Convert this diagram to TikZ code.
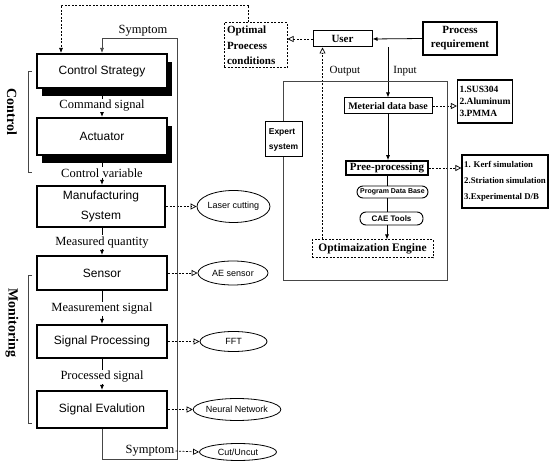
\documentclass[tikz,border=0pt]{standalone}
\usepackage{fontspec}
\setmainfont{Liberation Serif}
\setsansfont{Liberation Sans}
\usepackage{tikz}
\usetikzlibrary{arrows.meta,shapes.geometric,shadows}
\definecolor{linegray}{RGB}{70,70,70}
\tikzset{
    blk/.style={rectangle, draw, line width=2pt, fill=white, minimum width=130pt, inner sep=0pt, align=center, font=\sffamily\fontsize{12}{20}\selectfont},
    shd/.style={drop shadow={fill=black, opacity=1, shadow xshift=5pt, shadow yshift=-8pt}},
    sig/.style={fill=white, inner sep=1pt, font=\fontsize{12.5}{14}\selectfont},
    oval/.style={ellipse, draw, line width=0.8pt, fill=white, inner sep=0pt, font=\sffamily\fontsize{9}{10}\selectfont},
    bbox/.style={rectangle, draw, line width=1pt, fill=white, inner sep=0pt, font=\bfseries\fontsize{11}{13}\selectfont},
    dbox/.style={bbox, dash pattern=on 2pt off 1.5pt},
    lst/.style={rectangle, draw, line width=1.2pt, fill=white, inner sep=2pt, align=left},
    rnd/.style={rectangle, rounded corners=6pt, draw, line width=0.9pt, fill=white, inner sep=0pt, font=\sffamily\bfseries\fontsize{7}{8}\selectfont},
    flow/.style={line width=0.8pt, -{Latex[length=5pt,width=4pt]}},
    link/.style={line width=0.7pt, dash pattern=on 2pt off 1.5pt, -{Triangle[open,length=6pt,width=6pt]}},
    dline/.style={line width=0.7pt, dash pattern=on 2pt off 1.5pt},
    fb/.style={line width=0.7pt, linegray},
    brk/.style={line width=0.7pt, linegray},
    side/.style={rotate=-90, font=\bfseries\fontsize{14}{16}\selectfont},
}

\begin{document}
\begin{tikzpicture}[x=1pt, y=-1pt]
    \useasboundingbox (0,0) rectangle (550,465);

    % Control / monitoring chain
    \node[blk, shd, minimum height=34pt] (strat) at (102,71) {Control Strategy};
    \node[blk, shd, minimum height=37pt] (act) at (102,136.5) {Actuator};
    \node[blk, minimum width=128pt, minimum height=41pt] (mfg) at (101,206.5) {Manufacturing\\System};
    \node[blk, minimum height=34pt] (sens) at (102,273) {Sensor};
    \node[blk, minimum height=33pt] (proc) at (102,341.5) {Signal Processing};
    \node[blk, minimum height=37pt] (eval) at (102,409.5) {Signal Evalution};

    \draw[flow] (strat.south) -- (act.north) node[sig, pos=0.6] {Command signal};
    \draw[flow] (act.south) -- (act.south |- mfg.north) node[sig, pos=0.58] {Control variable};
    \draw[flow] (mfg.south -| sens.north) -- (sens.north) node[sig, pos=0.52] {Measured quantity};
    \draw[flow] (sens.south) -- (proc.north) node[sig, pos=0.54] {Measurement signal};
    \draw[flow] (proc.south) -- (eval.north) node[sig, pos=0.58] {Processed signal};

    % Realisations
    \node[oval, minimum width=73pt, minimum height=32pt] (laser) at (233.5,206.5) {Laser cutting};
    \node[oval, minimum width=70pt, minimum height=24pt] (aes) at (233,273) {AE sensor};
    \node[oval, minimum width=67pt, minimum height=20pt] (fft) at (233.5,341.5) {FFT};
    \node[oval, minimum width=76pt, minimum height=22pt] (nn) at (237,409.5) {Neural Network};
    \draw[link] (mfg.east) -- (laser.west);
    \draw[link] (sens.east) -- (aes.west);
    \draw[link] (proc.east) -- (fft.west);
    \draw[link] (eval.east) -- (nn.west);

    % Feedback loop
    \coordinate (fbBR) at (177,459);
    \coordinate (fbTR) at (177,38);
    \draw[fb, -{Latex[length=5pt,width=4pt]}] (eval.south) |- (fbBR) -- (fbTR) -| (strat.north);
    \node[sig, fill=none] (symtop) at (143,31) {Symptom};
    \node[sig, fill=none] (symbot) at (150,451) {Symptom};
    \node[oval, minimum width=77pt, minimum height=17pt] (cut) at (238,452) {Cut/Uncut};
    \draw[link] (symbot.east) -- (cut.west);

    % Brackets
    \draw[brk] (32,71) -- (28,71) -- (28,172) -- (32,172);
    \node[side] (ctrl) at (12,112) {Control};
    \draw[brk] (32,275) -- (28,275) -- (28,423) -- (32,423);
    \node[side] (mon) at (12,323) {Monitoring};

    % Optimisation system
    \node[dbox, minimum width=63pt, minimum height=45pt, inner xsep=3pt, text width=57pt, align=left, font=\bfseries\fontsize{11}{15.5}\selectfont] (opt) at (255.5,45.5) {Optimal\\Proecess\\conditions};
    \node[bbox, minimum width=59pt, minimum height=16pt] (user) at (342.5,39) {User};
    \node[bbox, line width=1.5pt, minimum width=74pt, minimum height=33pt, align=center, font=\bfseries\fontsize{11}{14}\selectfont] (req) at (460,38.5) {Process\\requirement};
    \node[bbox, minimum width=37pt, minimum height=35pt, align=left, font=\sffamily\bfseries\fontsize{8.5}{15}\selectfont] (expert) at (283.5,139.5) {Expert\\system};
    \node[bbox, minimum width=88pt, minimum height=16pt, font=\bfseries\fontsize{10}{12}\selectfont] (mat) at (388,106) {Meterial data base};
    \node[lst, minimum width=46pt, minimum height=43pt, font=\bfseries\fontsize{9.5}{12}\selectfont] (mats) at (485,101.5) {1.SUS304\\2.Aluminum\\3.PMMA};
    \node[bbox, line width=1.5pt, minimum width=82pt, minimum height=14pt] (pre) at (387,168) {Pree-processing};
    \node[lst, minimum width=86pt, minimum height=53pt, font=\bfseries\fontsize{8.8}{16}\selectfont] (sims) at (505,181.5) {1. Kerf simulation\\2.Striation simulation\\3.Experimental D/B};
    \node[rnd, minimum width=71pt, minimum height=12pt] (pdb) at (392.5,192) {Program Data Base};
    \node[rnd, minimum width=63pt, minimum height=13pt, font=\sffamily\bfseries\fontsize{8}{9}\selectfont] (cae) at (391.5,218.5) {CAE Tools};
    \node[dbox, minimum width=121pt, minimum height=18pt, font=\bfseries\fontsize{11.5}{13}\selectfont] (eng) at (372.5,249) {Optimaization Engine};

    \node[font=\fontsize{11}{13}\selectfont] (outlbl) at (345,71) {Output};
    \node[font=\fontsize{11}{13}\selectfont] (inlbl) at (405,71) {Input};

    \draw[flow] (req.west) -- (user.east);
    \draw[link] (user.west) -- (user.west -| opt.east);
    \draw[flow] (user.south -| mat.north) -- (mat.north);
    \draw[link] (mat.east) -- (mat.east -| mats.west);
    \draw[flow] (mat.south) -- (mat.south |- pre.north);
    \draw[link] (pre.east) -- (pre.east -| sims.west);
    \draw[line width=0.8pt] (pre.south) -- (pre.south |- pdb.north);
    \draw[line width=0.8pt] (pre.south |- pdb.south) -- (pre.south |- cae.north);
    \draw[flow] (pre.south |- cae.south) -- (pre.south |- eng.north);

    \coordinate (outB) at ([xshift=-50pt]eng.north);
    \draw[link] (outB) -- (outB |- user.south);

    % Expert system frame
    \coordinate (rTR) at (447,81);
    \coordinate (rBR) at (447,280);
    \draw[fb] (expert.north) |- (rTR) -- (rBR) -| (expert.south);

    % Optimal conditions back to control strategy
    \coordinate (topL) at (61,5);
    \draw[dline, -{Latex[length=5pt,width=4pt]}] ([xshift=-7pt]opt.north) |- (topL) -- (topL |- strat.north);
\end{tikzpicture}
\end{document}
